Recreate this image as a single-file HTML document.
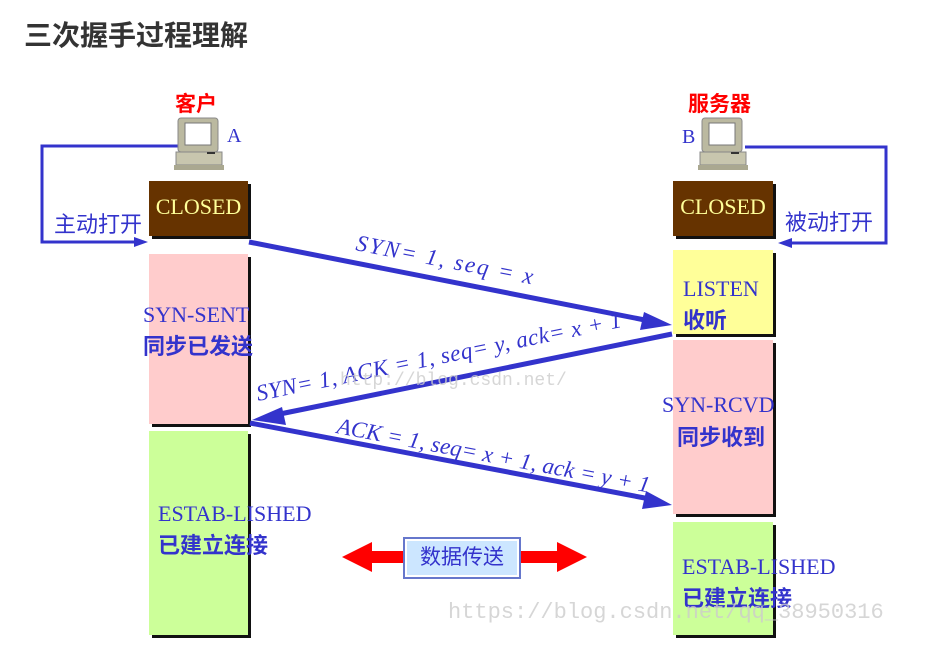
<!DOCTYPE html>
<html><head><meta charset="utf-8"><style>
body{margin:0;width:941px;height:670px;background:#fff;position:relative;overflow:hidden;font-family:"Liberation Serif","Noto Serif CJK SC",serif}
.a{position:absolute}
.cj{font-family:"Liberation Sans","Noto Sans CJK SC",sans-serif}
.box{position:absolute;box-shadow:3px 3px 0 #111}
.st{color:#3333cc;font-size:22px;white-space:nowrap}
.stc{color:#3333cc;font-size:22px;font-weight:bold;white-space:nowrap;font-family:"Liberation Sans","Noto Sans CJK SC",sans-serif}
.closed{background:#663300;color:#ffff99;font-size:22px;text-align:center;line-height:52px}
</style></head><body>
<div class="a cj" style="left:24px;top:14px;font-size:28px;font-weight:bold;color:#333">三次握手过程理解</div>
<div class="a cj" style="left:175px;top:88px;font-size:21px;font-weight:bold;color:#ff0000">客户</div>
<div class="a cj" style="left:688px;top:88px;font-size:21px;font-weight:bold;color:#ff0000">服务器</div>
<div class="a" style="left:227px;top:125px;font-size:20px;color:#3333cc">A</div>
<div class="a" style="left:682px;top:126px;font-size:20px;color:#3333cc">B</div>

<div class="box closed" style="left:149px;top:181px;width:99px;height:55px">CLOSED</div>
<div class="box" style="left:149px;top:254px;width:99px;height:170px;background:#ffcccc"></div>
<div class="box" style="left:149px;top:431px;width:99px;height:204px;background:#ccff99"></div>
<div class="box closed" style="left:673px;top:181px;width:100px;height:55px">CLOSED</div>
<div class="box" style="left:673px;top:250px;width:100px;height:84px;background:#ffff99"></div>
<div class="box" style="left:673px;top:340px;width:100px;height:174px;background:#ffcccc"></div>
<div class="box" style="left:673px;top:522px;width:100px;height:113px;background:#ccff99"></div>

<div class="a st" style="left:143px;top:302px">SYN-SENT</div>
<div class="a stc" style="left:143px;top:329px">同步已发送</div>
<div class="a st" style="left:158px;top:501px">ESTAB-LISHED</div>
<div class="a stc" style="left:158px;top:528px">已建立连接</div>
<div class="a st" style="left:683px;top:276px">LISTEN</div>
<div class="a stc" style="left:683px;top:303px">收听</div>
<div class="a st" style="left:662px;top:392px">SYN-RCVD</div>
<div class="a stc" style="left:677px;top:420px">同步收到</div>
<div class="a st" style="left:682px;top:554px">ESTAB-LISHED</div>
<div class="a stc" style="left:682px;top:581px">已建立连接</div>

<div class="a cj" style="left:54px;top:207px;font-size:22px;color:#3333cc">主动打开</div>
<div class="a cj" style="left:785px;top:205px;font-size:22px;color:#3333cc">被动打开</div>

<svg class="a" style="left:0;top:0" width="941" height="670">
<g fill="none" stroke="#3333cc" stroke-width="3">
<polyline points="178,146 42,146 42,242 140,242"/>
<polyline points="745,147 886,147 886,243 790,243"/>
</g>
<polygon points="148,242 134,237 134,247" fill="#3333cc"/>
<polygon points="778,243 792,238 792,248" fill="#3333cc"/>
<g id="pc">
<rect x="178" y="118" width="40" height="34" rx="3" fill="#bbb9a0" stroke="#888" />
<rect x="185" y="123" width="26" height="22" fill="#fff" stroke="#777"/>
<rect x="176" y="152" width="46" height="13" fill="#c8c6ae" stroke="#888"/>
<rect x="207" y="152" width="8" height="2" fill="#333"/>
<rect x="174" y="165" width="50" height="5" fill="#aaa890"/>
</g>
<use href="#pc" x="524" y="0"/>
<g stroke="#3333cc" stroke-width="5" fill="#3333cc">
<line x1="249" y1="242" x2="650" y2="321"/>
<line x1="672" y1="334" x2="275" y2="415"/>
<line x1="250" y1="423" x2="650" y2="499"/>
</g>
<g fill="#3333cc">
<polygon points="672,325 644,312 640,330"/>
<polygon points="252,420 282,407 286,425"/>
<polygon points="672,505 646,491 642,509"/>
</g>
<polygon points="342,557 372,542 372,551 405,551 405,563 372,563 372,572" fill="#ff0000"/>
<polygon points="587,557 557,542 557,551 520,551 520,563 557,563 557,572" fill="#ff0000"/>
<g font-family="Liberation Serif,serif" font-style="italic" font-size="23" fill="#3333cc">
<text transform="translate(355,250) rotate(11)" textLength="180">SYN= 1, seq = x</text>
<text transform="translate(258,401) rotate(-11.5)" textLength="372">SYN= 1, ACK = 1, seq= y, ack= x + 1</text>
<text transform="translate(336,433) rotate(10.8)" textLength="318">ACK = 1, seq= x + 1, ack = y + 1</text>
</g>
<g font-family="Liberation Mono,monospace" font-size="22" fill="#ccc" opacity="0.8">
<text x="448" y="618">https://blog.csdn.net/qq_38950316</text>
<text x="340" y="385" font-size="18">http://blog.csdn.net/</text>
</g>
</svg>
<div class="a cj" style="left:403px;top:537px;width:114px;height:38px;background:#cce6ff;border:2px solid #6677cc;box-shadow:inset 0 0 0 2px #fff;color:#3333cc;font-size:21px;text-align:center;line-height:38px">数据传送</div>
</body></html>
